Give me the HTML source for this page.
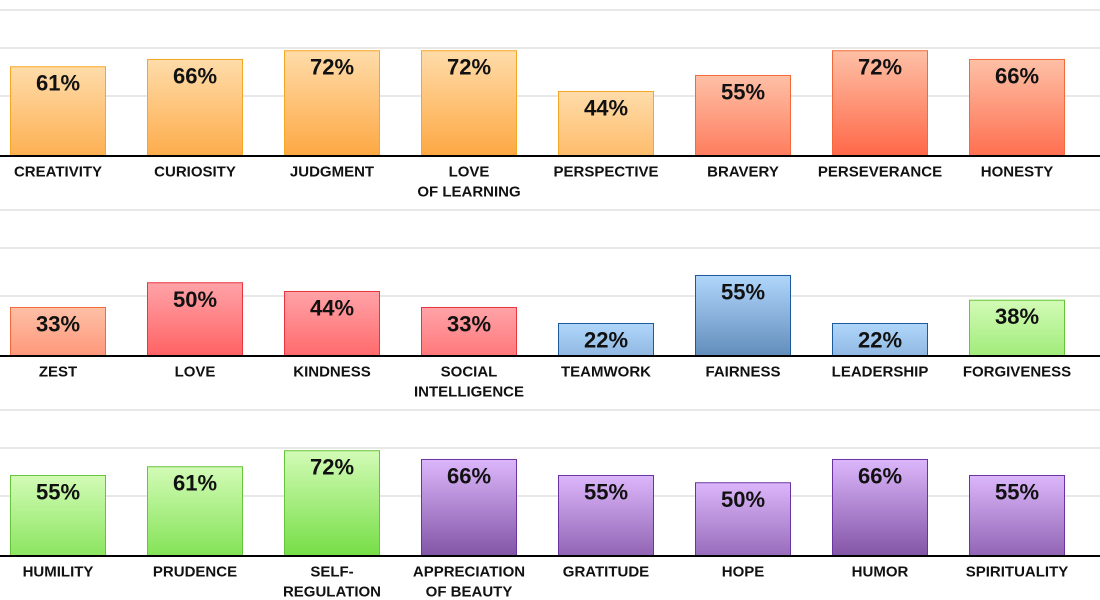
<!DOCTYPE html>
<html><head><meta charset="utf-8"><style>
body{margin:0;background:#fff;}
svg{display:block;font-family:"Liberation Sans",sans-serif;}
</style></head><body>
<svg id="chart" width="1100" height="600" viewBox="0 0 1100 600" xmlns="http://www.w3.org/2000/svg"></svg>
<script>
const categories = [
 ["CREATIVITY"],["CURIOSITY"],["JUDGMENT"],["LOVE","OF LEARNING"],["PERSPECTIVE"],["BRAVERY"],["PERSEVERANCE"],["HONESTY"],
 ["ZEST"],["LOVE"],["KINDNESS"],["SOCIAL","INTELLIGENCE"],["TEAMWORK"],["FAIRNESS"],["LEADERSHIP"],["FORGIVENESS"],
 ["HUMILITY"],["PRUDENCE"],["SELF-","REGULATION"],["APPRECIATION","OF BEAUTY"],["GRATITUDE"],["HOPE"],["HUMOR"],["SPIRITUALITY"]
];
const values = [61,66,72,72,44,55,72,66, 33,50,44,33,22,55,22,38, 55,61,72,66,55,50,66,55];
const groups = ["o","o","o","o","o","r","r","r", "r","k","k","k","b","b","b","g", "g","g","g","p","p","p","p","p"];
const palette = {
 o:["#fedcaa","#fda843","#f5a623"],
 r:["#fdc0a6","#ff6848","#f26a3c"],
 k:["#ffa3a8","#ff4646","#e8343c"],
 b:["#b0d6fb","#4a76a8","#1c5a9c"],
 g:["#d2fbb6","#76de46","#66c43a"],
 p:["#dcb6fb","#7a4c9e","#6a34a0"]
};
const svg = document.getElementById('chart');
const NS = "http://www.w3.org/2000/svg";
const PX = 1.455, ROWH = 200, BASE0 = 155.5, COLW = 137, X0 = 58, BW = 96;
const yScale = (v,row) => BASE0 + row*ROWH - v*PX;
const xCenter = i => X0 + i*COLW;
const defs = document.createElementNS(NS,'defs');
svg.appendChild(defs);
for (let r=0;r<3;r++){
  const b = BASE0 + r*ROWH;
  [145.5,107.5,59.5].forEach(off=>{
    const l=document.createElementNS(NS,'line');
    
    
    l.setAttribute('x1',0);l.setAttribute('x2',1100);l.setAttribute('y1',b-off);l.setAttribute('y2',b-off);
    l.setAttribute('stroke','#d0d0d0');l.setAttribute('stroke-width','1');
    svg.appendChild(l);
  });
}
values.forEach((v,i)=>{
  const row=Math.floor(i/8), col=i%8;
  const base=BASE0+row*ROWH, top=yScale(v,row), cx=xCenter(col);
  const c=palette[groups[i]];
  const g=document.createElementNS(NS,'linearGradient');
  g.setAttribute('id','g'+i);g.setAttribute('gradientUnits','userSpaceOnUse');
  g.setAttribute('x1',0);g.setAttribute('x2',0);g.setAttribute('y1',top);g.setAttribute('y2',top+105);
  g.innerHTML='<stop offset="0" stop-color="'+c[0]+'"/><stop offset="1" stop-color="'+c[1]+'"/>';
  defs.appendChild(g);
  const rect=document.createElementNS(NS,'rect');
  
  
  rect.setAttribute('x',cx-BW/2+0.5);rect.setAttribute('y',top);
  rect.setAttribute('width',BW-1);rect.setAttribute('height',base-top);
  rect.setAttribute('fill','url(#g'+i+')');rect.setAttribute('stroke',c[2]);rect.setAttribute('stroke-width','1');
  svg.appendChild(rect);
  const t=document.createElementNS(NS,'text');
  
  
  t.setAttribute('x',cx);t.setAttribute('y',top+24);t.setAttribute('text-anchor','middle');
  t.setAttribute('font-size','22');t.setAttribute('font-weight','bold');t.setAttribute('fill','#111');
  t.textContent=v+'%';
  svg.appendChild(t);
  categories[i].forEach((ln,k)=>{
    const lt=document.createElementNS(NS,'text');
    
    
    lt.setAttribute('x',cx);lt.setAttribute('y',base+21+k*20);lt.setAttribute('text-anchor','middle');
    lt.setAttribute('font-size','15');lt.setAttribute('font-weight','bold');lt.setAttribute('fill','#111');
    lt.textContent=ln;
    svg.appendChild(lt);
  });
});
for (let r=0;r<3;r++){
  const b=BASE0+r*ROWH;
  const l=document.createElementNS(NS,'line');
  
  
  l.setAttribute('x1',0);l.setAttribute('x2',1100);l.setAttribute('y1',b+0.5);l.setAttribute('y2',b+0.5);
  l.setAttribute('stroke','#000');l.setAttribute('stroke-width','2');
  svg.appendChild(l);
}
</script>
</body></html>
